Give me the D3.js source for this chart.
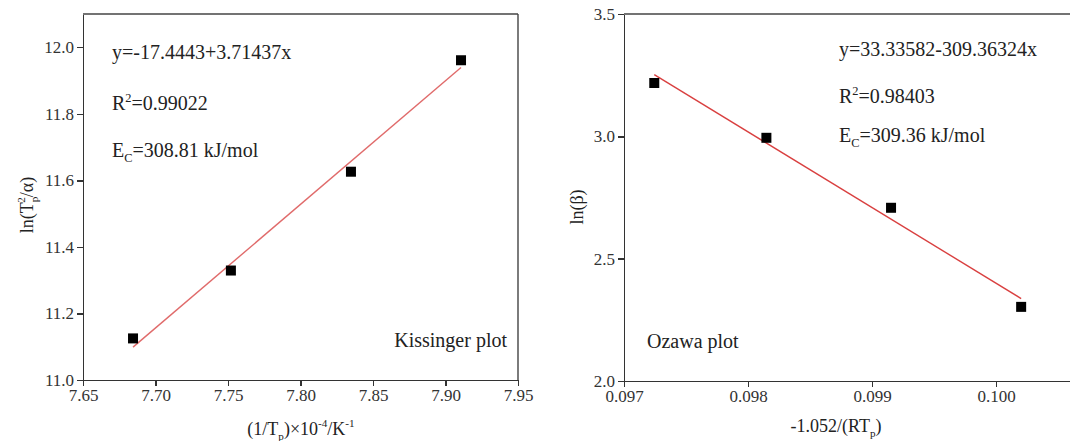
<!DOCTYPE html>
<html>
<head>
<meta charset="utf-8">
<script src="https://d3js.org/d3.v7.min.js"></script>
<style>
body { margin: 0; background: #fff; }
svg { font-family: "Liberation Serif", "Times New Roman", serif; }
.axis path, .axis line { stroke: #333; stroke-width: 1.4; shape-rendering: crispEdges; }
.lbl { fill: #222; font-size: 20px; }
.ttl { fill: #222; font-size: 18px; }
</style>
</head>
<body>
<svg id="chart" width="1070" height="441"></svg>
<script>
// Kissinger data
var kisX = [7.6845, 7.752, 7.8348, 7.9107];
var kisY = [11.125, 11.329, 11.626, 11.961];
var kisFit = [-17.4443, 3.71437];
var kisXTicks = [7.65, 7.70, 7.75, 7.80, 7.85, 7.90, 7.95];
var kisYTicks = [11.0, 11.2, 11.4, 11.6, 11.8, 12.0];

// Ozawa data
var ozX = [0.097244, 0.098148, 0.099153, 0.100202];
var ozY = [3.218, 2.994, 2.708, 2.303];
var ozFit = [33.33582, -309.36324];
var ozXTicks = [0.097, 0.098, 0.099, 0.100];
var ozYTicks = [2.0, 2.5, 3.0, 3.5];

var svg = d3.select("#chart");

function panel(o) {
  var x = d3.scaleLinear().domain(o.xd).range(o.xr);
  var y = d3.scaleLinear().domain(o.yd).range(o.yr);
  var g = svg.append("g");

  // frame (top + right)
  g.append("line").attr("x1", o.xr[0]).attr("x2", o.xr[1]).attr("y1", o.yr[1]).attr("y2", o.yr[1])
    .attr("stroke", "#444").attr("stroke-width", 1.4);
  g.append("line").attr("x1", o.xr[1]).attr("x2", o.xr[1]).attr("y1", o.yr[0]).attr("y2", o.yr[1])
    .attr("stroke", "#444").attr("stroke-width", 1.4);

  var gx = g.append("g").attr("class", "axis").attr("transform", "translate(0," + o.yr[0] + ")");
  gx.call(d3.axisBottom(x).tickValues(o.xminor).tickSize(4).tickFormat(""));
  gx.call(d3.axisBottom(x).tickValues(o.xt).tickSize(6).tickSizeOuter(0).tickFormat(o.xf).tickPadding(3));
  var gy = g.append("g").attr("class", "axis").attr("transform", "translate(" + o.xr[0] + ",0)");
  gy.call(d3.axisLeft(y).tickValues(o.yminor).tickSize(4).tickFormat(""));
  gy.call(d3.axisLeft(y).tickValues(o.yt).tickSize(6).tickSizeOuter(0).tickFormat(o.yf).tickPadding(3));
  g.selectAll(".axis text")
    .style("font-family", '"Liberation Serif", "Times New Roman", serif')
    .style("font-size", "17px")
    .attr("fill", "#333");

  // fit line
  var x0 = o.xs[0], x1 = o.xs[o.xs.length - 1];
  g.append("line")
    .attr("x1", x(x0)).attr("y1", y(o.fit[0] + o.fit[1] * x0))
    .attr("x2", x(x1)).attr("y2", y(o.fit[0] + o.fit[1] * x1))
    .attr("stroke", o.lc).attr("stroke-width", 1.4);

  // points
  g.selectAll("rect.pt").data(o.xs).enter().append("rect")
    .attr("class", "pt")
    .attr("x", function(d) { return x(d) - 5; })
    .attr("y", function(d, i) { return y(o.ys[i]) - 5; })
    .attr("width", 10).attr("height", 10)
    .attr("fill", "#000");
  return g;
}

panel({
  xd: [7.65, 7.95], xr: [83, 518], yd: [11.0, 12.1], yr: [380, 14],
  xt: kisXTicks, yt: kisYTicks,
  xminor: d3.range(7.675, 7.95, 0.05), yminor: d3.range(11.1, 12.1, 0.2),
  xf: d3.format(".2f"), yf: d3.format(".1f"),
  xs: kisX, ys: kisY, fit: kisFit, lc: "#e06b6b"
});

panel({
  xd: [0.097, 0.10062], xr: [624, 1073], yd: [2.0, 3.5], yr: [381, 14],
  xt: ozXTicks, yt: ozYTicks,
  xminor: [0.0975, 0.0985, 0.0995, 0.1005], yminor: [2.25, 2.75, 3.25],
  xf: d3.format(".3f"), yf: d3.format(".1f"),
  xs: ozX, ys: ozY, fit: ozFit, lc: "#d94040"
});

// rich text helper: parts = [[text, "n"|"sub"|"sup", dx], ...]
function rich(x, y, parts, cls, anchor, transform) {
  var t = svg.append("text").attr("class", cls).attr("text-anchor", anchor || "start");
  if (transform) t.attr("transform", transform); else t.attr("x", x).attr("y", y);
  var off = { n: 0, sub: 5, sup: -8 };
  var prev = "n";
  parts.forEach(function(p) {
    var s = t.append("tspan").text(p[0]);
    var dy = off[p[1]] - off[prev];
    if (dy) s.attr("dy", dy);
    if (p[2]) s.attr("dx", p[2]);
    if (p[1] !== "n") s.attr("font-size", "0.62em");
    prev = p[1];
  });
  return t;
}

// Kissinger annotations
rich(112, 59, [["y=-17.4443+3.71437x", "n"]], "lbl");
rich(112, 110, [["R", "n"], ["2", "sup"], ["=0.99022", "n"]], "lbl");
rich(112, 157, [["E", "n"], ["C", "sub"], ["=308.81 kJ/mol", "n"]], "lbl");
rich(507, 347, [["Kissinger plot", "n"]], "lbl", "end");

// Ozawa annotations
rich(839, 56, [["y=33.33582-309.36324x", "n"]], "lbl");
rich(839, 103, [["R", "n"], ["2", "sup"], ["=0.98403", "n"]], "lbl");
rich(839, 142, [["E", "n"], ["C", "sub"], ["=309.36 kJ/mol", "n"]], "lbl");
rich(647, 348, [["Ozawa plot", "n"]], "lbl");

// axis titles
rich(301, 435, [["(1/T", "n"], ["p", "sub"], [")\u00d710", "n"], ["-4", "sup"], ["/K", "n"], ["-1", "sup"]], "ttl", "middle");
rich(836, 432, [["-1.052/(RT", "n"], ["p", "sub"], [")", "n"]], "ttl", "middle");
rich(0, 0, [["ln(T", "n"], ["p", "sub"], ["2", "sup", -6], ["/\u03b1)", "n"]], "ttl", "middle", "translate(33,205) rotate(-90)");
rich(0, 0, [["ln(\u03b2)", "n"]], "ttl", "middle", "translate(583,207) rotate(-90)");
</script>
</body>
</html>
